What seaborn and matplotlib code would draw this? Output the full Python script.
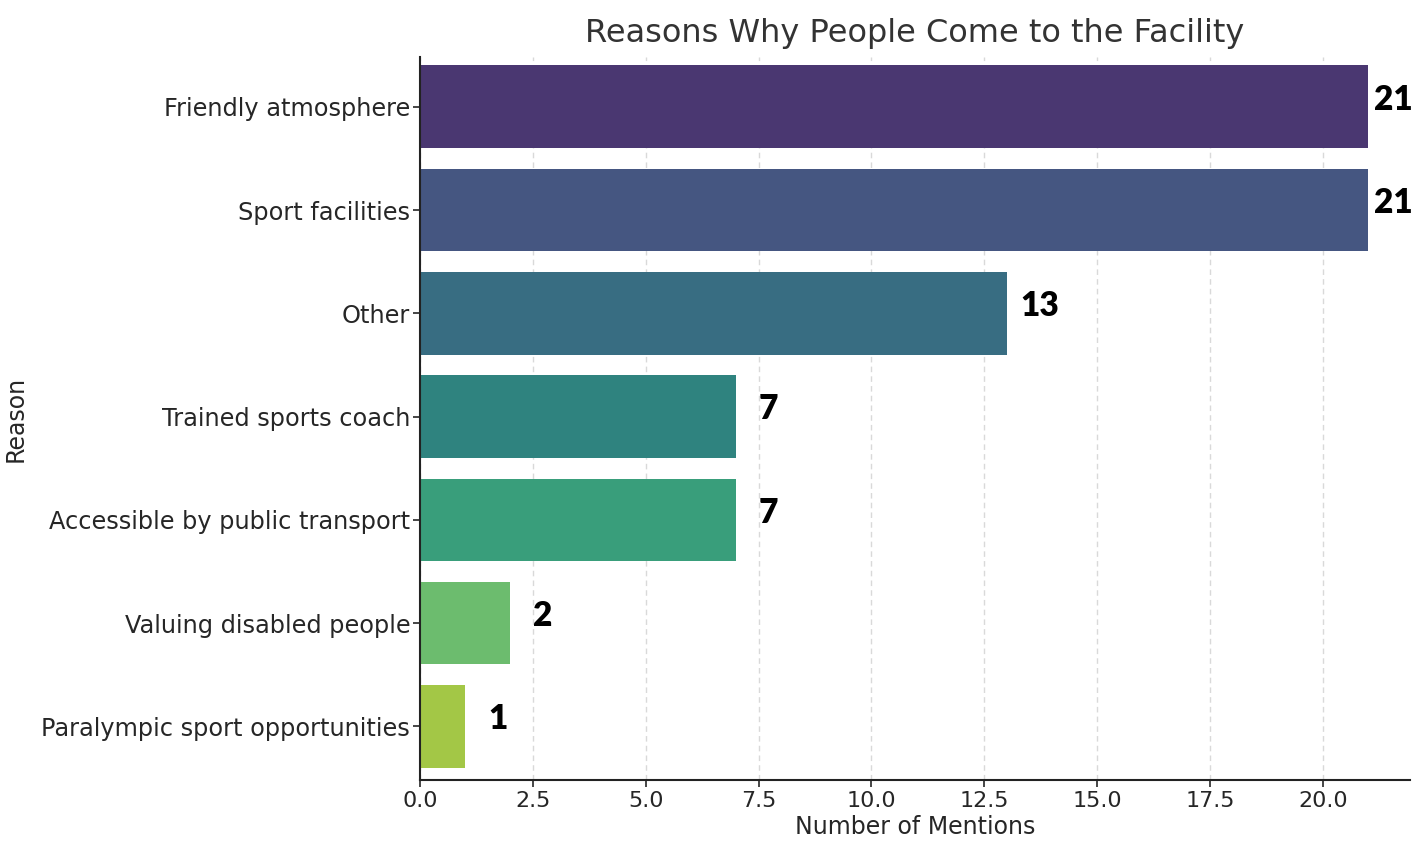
import matplotlib
matplotlib.use("Agg")
import matplotlib.pyplot as plt
import seaborn as sns
import pandas as pd

reasons = [
    "Friendly atmosphere",
    "Sport facilities",
    "Other",
    "Trained sports coach",
    "Accessible by public transport",
    "Valuing disabled people",
    "Paralympic sport opportunities",
]
mentions = [21, 21, 13, 7, 7, 2, 1]

df = pd.DataFrame({"Reason": reasons, "Number of Mentions": mentions})

sns.set_style("ticks")
plt.rcParams["font.family"] = ["DejaVu Sans"]

fig = plt.figure(figsize=(14.13, 8.41), dpi=100)
ax = fig.add_axes([0.2972, 0.0725, 0.7008, 0.8595])

sns.barplot(data=df, y="Reason", x="Number of Mentions", hue="Reason",
            palette="viridis", legend=False, ax=ax, width=0.8, linewidth=0)

ax.set_xlim(0, 21.93)
ax.set_ylim(len(reasons) - 0.48, -0.48)
ax.xaxis.grid(True, linestyle=(0, (4, 3)), color="#d9d9d9", linewidth=1.0)
ax.set_axisbelow(True)
sns.despine(ax=ax)
for s in ["left", "bottom"]:
    ax.spines[s].set_color("#222222")
    ax.spines[s].set_linewidth(1.5)

ax.tick_params(axis="both", colors="#262626", length=5, width=1.2)
ax.tick_params(axis="y", pad=2, labelsize=17.3)
ax.tick_params(axis="x", pad=3, labelsize=16)
ax.set_xlabel("Number of Mentions", fontsize=17, color="#262626", labelpad=3)
ax.set_ylabel("Reason", fontsize=17, color="#262626", labelpad=10)
ax.set_title("Reasons Why People Come to the Facility", fontsize=23, color="#333333", pad=11)

for i, v in enumerate(mentions):
    xpos = min(v + 0.72, 21.55)
    ax.text(xpos, i - 0.07, str(v), ha="center", va="center",
            fontsize=24, fontweight="heavy", family=["Lato", "DejaVu Sans"], color="black")

fig.savefig("out.png", dpi=100)
